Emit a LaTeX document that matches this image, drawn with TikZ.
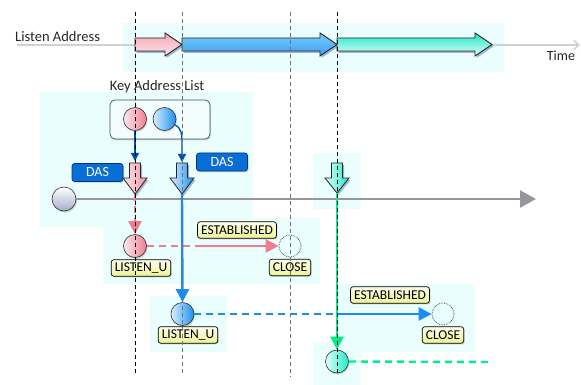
\documentclass[tikz,border=0pt]{standalone}
\usepackage{fontspec}
\setmainfont{Carlito}
\usetikzlibrary{arrows.meta,shadows}
\definecolor{bgc}{RGB}{234,254,254}
\definecolor{pinkA}{RGB}{240,125,143}
\definecolor{pinkL}{RGB}{252,232,238}
\definecolor{blueA}{RGB}{26,142,240}
\definecolor{blueL}{RGB}{216,240,255}
\definecolor{blueM}{RGB}{120,205,255}
\definecolor{cyanA}{RGB}{32,232,200}
\definecolor{cyanL}{RGB}{224,255,250}
\definecolor{greenA}{RGB}{0,238,140}
\definecolor{dasblue}{RGB}{10,110,215}
\definecolor{dasdark}{RGB}{0,50,130}
\definecolor{keyblue}{RGB}{0,80,170}
\definecolor{tlgray}{RGB}{150,150,155}
\definecolor{labtop}{RGB}{253,253,235}
\definecolor{labbot}{RGB}{235,243,150}
\definecolor{stbot}{RGB}{165,172,200}
\begin{document}
\begin{tikzpicture}[x=1pt,y=-1pt,
  panel/.style={fill=bgc,draw=none},
  vlblack/.style={draw=black,line width=0.7pt,dash pattern=on 4pt off 3pt},
  vlgray/.style={draw=black!55,line width=0.9pt,dash pattern=on 4pt off 3pt},
  lbl/.style={draw=black,line width=0.7pt,rounded corners=2.5pt,top color=labtop,bottom color=labbot,
    font=\fontsize{13.5}{14}\selectfont,inner xsep=3.5pt,inner ysep=0.5pt,minimum height=16.5pt,
    drop shadow={shadow xshift=1pt,shadow yshift=-1.2pt,opacity=0.35}},
  das/.style={draw=dasdark,line width=0.6pt,fill=dasblue,rounded corners=2.5pt,text=white,
    font=\fontsize{14}{15}\selectfont,minimum width=51pt,minimum height=18pt,inner sep=1pt,
    drop shadow={shadow xshift=1pt,shadow yshift=-1.2pt,opacity=0.35}},
  state/.style={circle,draw=black!80,line width=0.6pt,minimum size=23pt,inner sep=0pt,
    drop shadow={shadow xshift=1pt,shadow yshift=-1.5pt,opacity=0.35}},
  dotc/.style={circle,draw=black!80,densely dotted,line width=0.7pt,minimum size=22pt,inner sep=0pt,fill=bgc},
  bigarrow/.style={draw=black!85,line width=0.9pt,line join=miter,
    drop shadow={shadow xshift=1.5pt,shadow yshift=-2pt,opacity=0.3,fill=blue!40!black}},
  keyarr/.style={draw=keyblue,line width=1.3pt,-{Triangle[length=8pt,width=8pt]}},
  pinkarr/.style={draw=pinkA,line width=2.4pt},
  bluearr/.style={draw=blueA,line width=2.4pt},
  greenarr/.style={draw=greenA,line width=2.4pt},
  dsh/.style={dash pattern=on 7pt off 5pt},
  tip/.style={-{Triangle[length=13pt,width=13pt]}}
]
\useasboundingbox (0,0) rectangle (581,385);
% panels
\fill[panel] (123,23) rectangle (504,72);
\fill[panel] (40,92) rectangle (253,227);
\fill[panel] (103,218) rectangle (320,284);
\fill[panel] (150,296) rectangle (227,352);
\fill[panel] (337,284) rectangle (475,352);
\fill[panel] (313,153) rectangle (361,209);
\fill[panel] (313,342) rectangle (361,385);

% listen address axis
\node[anchor=west,font=\fontsize{14.5}{16}\selectfont,text=black!85,inner sep=0pt] (la) at (15,37) {Listen Address};
\coordinate (ls) at (17,45);
\coordinate (le) at (580,45);
\draw[black!18,line width=1.6pt,-{Straight Barb[length=5pt,width=9pt]}] (ls) -- (le);
\node[font=\fontsize{14}{16}\selectfont,text=black!85] (time) at (561,56) {Time};

% big arrows
\path[bigarrow,top color=pinkA!70,bottom color=pinkL]
  (135,38) -- (165,38) -- (165,33) -- (182,44.5) -- (165,56) -- (165,51) -- (135,51) -- cycle;
\path[bigarrow,top color=blueM,bottom color=blueA!85]
  (182,38) -- (320,38) -- (320,33) -- (337,44.5) -- (320,56) -- (320,51) -- (182,51) -- cycle;
\path[bigarrow,top color=cyanA,bottom color=cyanL]
  (337,38) -- (475,38) -- (475,33) -- (492,44.5) -- (475,56) -- (475,51) -- (337,51) -- cycle;

% key address list
\node[font=\fontsize{14.5}{16}\selectfont,text=black!85] (klt) at (157,87) {Key Address List};
\node[draw=black!70,line width=0.7pt,rounded corners=5pt,fill=bgc!60!white,minimum width=100pt,minimum height=39pt,
  drop shadow={shadow xshift=1pt,shadow yshift=-1.5pt,opacity=0.3}] (kbox) at (160,119.5) {};
\node[state,left color=pinkL,right color=pinkA] (kp) at (135,119) {};
\node[state,left color=blueL,right color=blueA] (kb) at (164.5,119) {};

% timeline
\node[state,minimum size=24pt,top color=white,bottom color=stbot] (st) at (64,199) {};
\coordinate (tle) at (536,199);
\draw[tlgray,line width=2.6pt,-{Triangle[length=16pt,width=17pt]}] (st) -- (tle);

% DAS down arrows
\path[bigarrow,line width=0.8pt,left color=pinkL,right color=pinkA!85]
  (129.5,163) -- (140.5,163) -- (140.5,178) -- (147,178) -- (135,194) -- (123,178) -- (129.5,178) -- cycle;
\path[bigarrow,line width=0.8pt,left color=blueL,right color=blueA]
  (176.5,163) -- (187.5,163) -- (187.5,178) -- (194,178) -- (182,194) -- (170,178) -- (176.5,178) -- cycle;
\path[bigarrow,line width=0.8pt,left color=cyanL,right color=cyanA]
  (331.5,163) -- (342.5,163) -- (342.5,178) -- (349,178) -- (337,193) -- (325,178) -- (331.5,178) -- cycle;
\coordinate (dp) at (135,161);
\coordinate (db) at (182,162);
\coordinate (dpt) at (135,194);
\coordinate (dbt) at (182,194);
\coordinate (dct) at (337,193);

\node[das] (das1) at (97.5,172.5) {DAS};
\node[das] (das2) at (222,162) {DAS};

% key list arrows
\draw[keyarr] (kp.south) -- (dp);
\draw[keyarr] (kb.-30) .. controls (182,128) and (182,135) .. (182,145) -- (db);

% states
\node[state,left color=pinkL,right color=pinkA] (lu1) at (135,246) {};
\node[lbl] (lu1l) at (141,268) {LISTEN\_U};
\node[dotc] (cl1) at (290,246) {};
\node[lbl] (cl1l) at (290,267.5) {CLOSE};
\node[lbl] (es1) at (237,230) {ESTABLISHED};

\node[state,left color=blueL,right color=blueA] (lu2) at (182.5,314) {};
\node[lbl] (lu2l) at (188,335) {LISTEN\_U};
\node[dotc] (cl2) at (443,314) {};
\node[lbl] (cl2l) at (443,335) {CLOSE};
\node[lbl] (es2) at (390,295) {ESTABLISHED};

\node[state,left color=cyanL,right color=cyanA] (c3) at (337,361.5) {};

% state connectors
\draw[pinkarr,dsh,tip] (dpt) -- (lu1.north);
\coordinate (p1) at (197,246);
\draw[pinkarr,dsh] (lu1.east) -- (p1);
\draw[pinkarr,tip] (p1) -- (cl1.west);

\draw[bluearr,tip] (dbt) -- (lu2.north);
\coordinate (p2) at (337,314);
\draw[bluearr,dsh] (lu2.east) -- (p2);
\draw[bluearr,tip] (p2) -- (cl2.west);

\draw[greenarr,tip] (dct) -- (c3.north);
\coordinate (g2) at (493,362);
\draw[greenarr,dsh] (c3.east) -- (g2);

% vertical time markers
\coordinate (v1t) at (135,12); \coordinate (v1b) at (135,374);
\coordinate (v2t) at (182,12); \coordinate (v2b) at (182,374);
\coordinate (v3t) at (290,12); \coordinate (v3b) at (290,377);
\coordinate (v4t) at (337,12); \coordinate (v4b) at (337,374);
\draw[vlblack] (v1t) -- (v1b);
\draw[vlgray] (v2t) -- (v2b);
\draw[vlgray] (v3t) -- (v3b);
\draw[vlblack] (v4t) -- (v4b);
\end{tikzpicture}
\end{document}
